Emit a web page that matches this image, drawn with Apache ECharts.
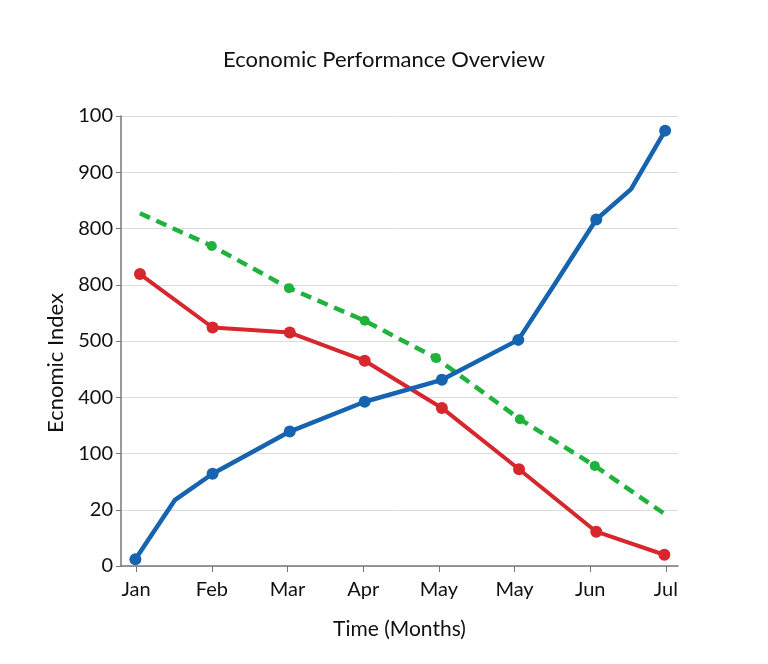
<!DOCTYPE html>
<html><head><meta charset="utf-8">
<script src="https://cdn.jsdelivr.net/npm/echarts@6/dist/echarts.min.js"></script>
<style>html,body{margin:0;padding:0;background:#fff}#c{width:768px;height:664px}</style>
</head><body><div id="c"></div>
<script>
// Category tick labels (x positions 0..7) and y tick labels (gridline index 0..8)
var months = ['Jan','Feb','Mar','Apr','May','May','Jun','Jul'];
var yLabels = ['0','20','100','400','500','800','800','900','100'];

// Series values, in axis units (x: month position, y: gridline position)
var blueX = [-0.01, 0.51, 1.01, 2.03, 3.02, 4.04, 5.05, 5.53, 6.08, 6.54, 6.99];
var blueY = [0.12, 1.17, 1.64, 2.39, 2.92, 3.31, 4.02, 5.01, 6.16, 6.70, 7.74];
var blueMarked = [0, 2, 3, 4, 5, 6, 8, 10];

var redX = [0.05, 1.01, 2.03, 3.02, 4.04, 5.06, 6.08, 6.98];
var redY = [5.19, 4.24, 4.15, 3.65, 2.81, 1.72, 0.61, 0.20];
var redMarked = [0, 1, 2, 3, 4, 5, 6, 7];

var greenX = [0.05, 1.00, 2.02, 3.02, 3.96, 5.07, 6.06, 7.00];
var greenY = [6.27, 5.69, 4.94, 4.36, 3.70, 2.61, 1.78, 0.91];
var greenMarked = [1, 2, 3, 4, 5, 6];

function build(xs, ys, marked) {
  return xs.map(function (x, i) {
    var d = { value: [x, ys[i]] };
    if (marked.indexOf(i) < 0) d.symbol = 'none';
    return d;
  });
}

var FONT = 'Lato';
var chart = echarts.init(document.getElementById('c'));
chart.setOption({
  backgroundColor: '#fff',
  animation: false,
  title: {
    text: 'Economic Performance Overview',
    left: 'center', top: 44,
    textStyle: { fontFamily: FONT, fontSize: 22, fontWeight: 'normal', color: '#111' }
  },
  grid: { left: 121, right: 90, top: 116, bottom: 98, containLabel: false },
  xAxis: {
    type: 'value', min: -0.2, max: 7.16,
    name: 'Time (Months)', nameLocation: 'middle', nameGap: 53,
    nameTextStyle: { fontFamily: FONT, fontSize: 21, color: '#111' },
    axisLine: { show: true, onZero: false, lineStyle: { color: '#777', width: 1.5 } },
    axisTick: { show: true, customValues: [0,1,2,3,4,5,6,7], length: 6, lineStyle: { color: '#777' } },
    axisLabel: {
      customValues: [0,1,2,3,4,5,6,7], margin: 14,
      formatter: function (v) { return months[Math.round(v)]; },
      fontFamily: FONT, fontSize: 20, color: '#111'
    },
    splitLine: { show: false }
  },
  yAxis: {
    type: 'value', min: 0, max: 8, interval: 1,
    name: 'Ecnomic Index', nameLocation: 'middle', nameGap: 54, nameRotate: 90,
    nameTextStyle: { fontFamily: FONT, fontSize: 22, color: '#111', padding: [0, 44, 0, 0] },
    axisLine: { show: true, onZero: false, lineStyle: { color: '#777', width: 1.5 } },
    axisTick: { show: true, length: 5, lineStyle: { color: '#777' } },
    axisLabel: {
      margin: 8,
      formatter: function (v) { return yLabels[Math.round(v)]; },
      fontFamily: FONT, fontSize: 20, color: '#111'
    },
    splitLine: { show: true, lineStyle: { color: '#dcdcdc', width: 1 } }
  },
  series: [
    {
      type: 'line', data: build(greenX, greenY, greenMarked),
      symbol: 'circle', symbolSize: 10,
      lineStyle: { color: '#1fb23c', width: 4.5, type: [11, 7] },
      itemStyle: { color: '#1fb23c' }, z: 3
    },
    {
      type: 'line', data: build(redX, redY, redMarked),
      symbol: 'circle', symbolSize: 12,
      lineStyle: { color: '#d7262e', width: 4 },
      itemStyle: { color: '#d7262e' }, z: 4
    },
    {
      type: 'line', data: build(blueX, blueY, blueMarked),
      symbol: 'circle', symbolSize: 12,
      lineStyle: { color: '#1663b0', width: 4.5 },
      itemStyle: { color: '#1663b0' }, z: 5
    }
  ]
});
</script></body></html>
